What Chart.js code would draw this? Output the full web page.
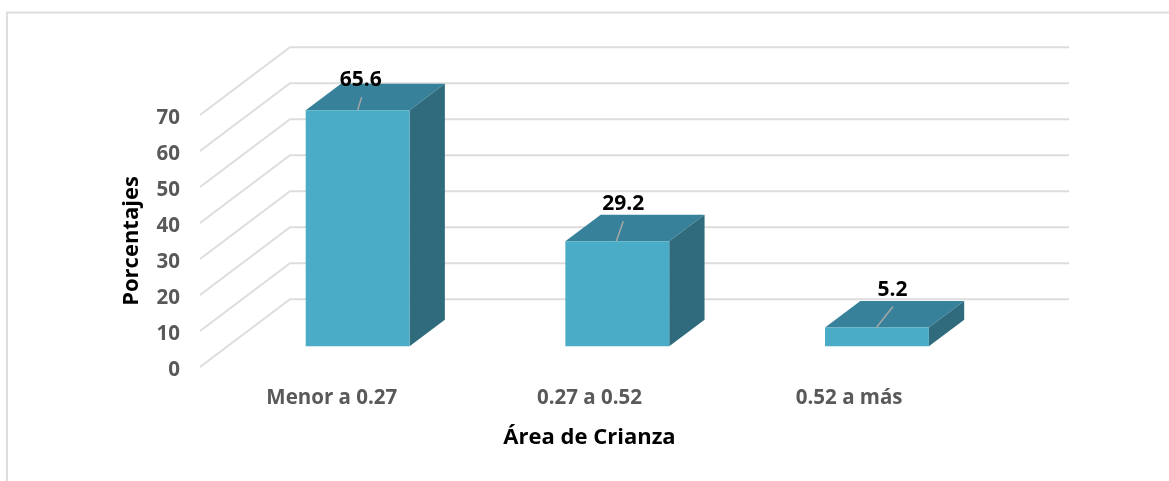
<!DOCTYPE html>
<html>
<head>
<meta charset="utf-8">
<style>html,body{margin:0;padding:0;background:#fff}canvas{display:block}</style>
<script src="https://cdn.jsdelivr.net/npm/chart.js@4"></script>
</head>
<body>
<canvas id="c" width="1169" height="481"></canvas>
<script>
const categories = ["Menor a 0.27", "0.27 a 0.52", "0.52 a más"];
const porcentajes = [65.6, 29.2, 5.2];
const yTicks = [0, 10, 20, 30, 40, 50, 60, 70];
const xTitle = "Área de Crianza";
const yTitle = "Porcentajes";

const FONT = "'Open Sans'";
const wall = {dx: 90, dy: -67.7};       // depth of the side wall
const barShift = {dx: 27.8, dy: -20.7}; // bars stand inside the floor
const depth = {dx: 35.3, dy: -26.5};    // depth of a bar
const labelMoves = [
  {tx: 3, ty: -30, lx0: 0, ly0: 0, lx1: 4, ly1: -13},
  {tx: 6, ty: -37, lx0: -1, ly0: 0, lx1: 6, ly1: -20},
  {tx: 15.5, ty: -38, lx0: -0.5, ly0: 0, lx1: 16, ly1: -21}
];

const scene = {
  id: 'scene',
  beforeDraw(chart) {
    const {ctx} = chart;
    ctx.save();
    ctx.strokeStyle = '#DDDDDD';
    ctx.lineWidth = 2;
    ctx.beginPath();
    ctx.moveTo(7, 481);
    ctx.lineTo(7, 12.5);
    ctx.lineTo(1169, 12.5);
    ctx.stroke();
    ctx.restore();
    const items = chart.scales.x.getLabelItems();
    if (!items.moved) {
      items.forEach(it => { it.options.translation[1] += 1; });
      items[0].options.translation[0] += 2;
      items.moved = true;
    }
    const yItems = chart.scales.y.getLabelItems();
    if (!yItems.moved) {
      yItems.forEach(it => { it.options.translation[1] += 3.5; });
      yItems.moved = true;
    }
  },
  beforeDatasetsDraw(chart) {
    const {ctx, chartArea: a, scales: {y}} = chart;
    ctx.save();
    ctx.strokeStyle = '#DDDDDD';
    ctx.lineWidth = 2;
    yTicks.forEach(v => {
      const py = y.getPixelForValue(v);
      ctx.beginPath();
      ctx.moveTo(a.left, py);
      ctx.lineTo(a.left + wall.dx, py + wall.dy);
      ctx.lineTo(a.right + wall.dx, py + wall.dy);
      ctx.stroke();
    });
    ctx.restore();
  },
  beforeDatasetDraw(chart, args) {
    const {ctx} = chart;
    ctx.save();
    ctx.translate(barShift.dx, barShift.dy);
    args.meta.data.forEach(b => {
      const l = b.x - b.width / 2, r = b.x + b.width / 2;
      ctx.fillStyle = '#37829A';
      ctx.beginPath();
      ctx.moveTo(l, b.y);
      ctx.lineTo(l + depth.dx, b.y + depth.dy);
      ctx.lineTo(r + depth.dx, b.y + depth.dy);
      ctx.lineTo(r, b.y);
      ctx.closePath();
      ctx.fill();
      ctx.fillStyle = '#2F6B7C';
      ctx.beginPath();
      ctx.moveTo(r, b.y);
      ctx.lineTo(r + depth.dx, b.y + depth.dy);
      ctx.lineTo(r + depth.dx, b.base + depth.dy);
      ctx.lineTo(r, b.base);
      ctx.closePath();
      ctx.fill();
    });
  },
  afterDatasetDraw(chart) {
    chart.ctx.restore();
  },
  afterDatasetsDraw(chart) {
    const {ctx} = chart;
    const meta = chart.getDatasetMeta(0);
    ctx.save();
    meta.data.forEach((b, i) => {
      const m = labelMoves[i];
      const x = b.x + barShift.dx, yy = b.y + barShift.dy;
      ctx.strokeStyle = '#A6A6A6';
      ctx.lineWidth = 1.5;
      ctx.beginPath();
      ctx.moveTo(x + m.lx0, yy + m.ly0);
      ctx.lineTo(x + m.lx1, yy + m.ly1);
      ctx.stroke();
      ctx.fillStyle = '#000';
      ctx.font = "bold 21px " + FONT;
      ctx.textAlign = 'center';
      ctx.textBaseline = 'middle';
      ctx.fillText(String(porcentajes[i]), x + m.tx, yy + m.ty);
    });
    ctx.restore();
  }
};

new Chart(document.getElementById('c'), {
  type: 'bar',
  data: {
    labels: categories,
    datasets: [{
      data: porcentajes,
      backgroundColor: '#4AACC6',
      borderWidth: 0,
      barPercentage: 0.4,
      categoryPercentage: 1,
      clip: false
    }]
  },
  plugins: [scene],
  options: {
    responsive: false,
    animation: false,
    events: [],
    layout: {padding: {left: 100, top: 115, right: 190, bottom: 21}},
    plugins: {legend: {display: false}, tooltip: {enabled: false}},
    scales: {
      x: {
        grid: {display: false, drawTicks: false},
        border: {display: false},
        ticks: {color: '#595959', font: {family: FONT, size: 20.5, weight: 'bold'}, padding: 18, maxRotation: 0, autoSkip: false},
        title: {display: true, text: xTitle, color: '#000', font: {family: FONT, size: 22, weight: 'bold'}, padding: {top: 0, bottom: 9}},
        afterFit(s) { s.height = 93; }
      },
      y: {
        min: 0,
        max: 70,
        afterBuildTicks(s) { s.ticks = yTicks.map(v => ({value: v})); },
        grid: {display: false, drawTicks: false},
        border: {display: false},
        ticks: {color: '#595959', font: {family: FONT, size: 20.5, weight: 'bold'}, padding: 20},
        title: {display: true, text: yTitle, color: '#000', font: {family: FONT, size: 22, weight: 'bold'}, padding: {top: 19, bottom: 0}},
        afterFit(s) { s.width = 100; }
      }
    }
  }
});
</script>
</body>
</html>
